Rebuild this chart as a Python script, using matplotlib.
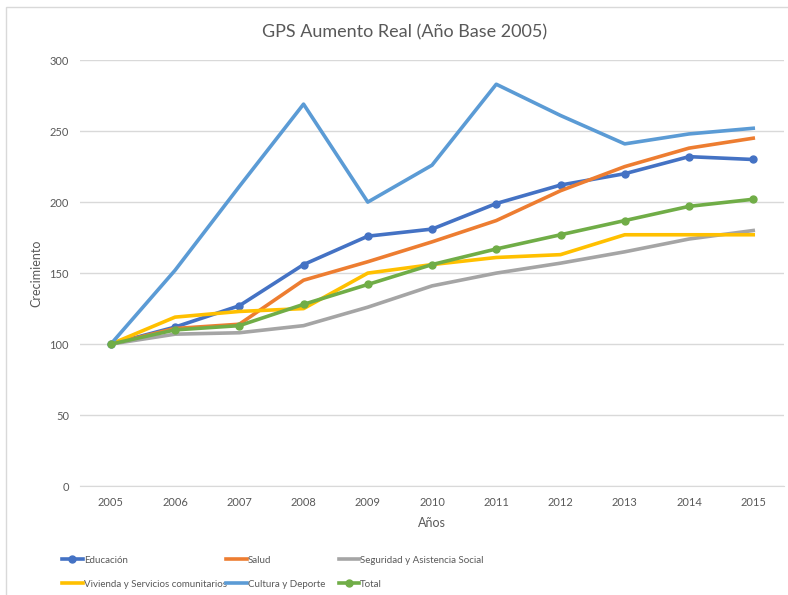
import matplotlib.pyplot as plt
from matplotlib.patches import Rectangle

plt.rcParams['font.family'] = ['Lato', 'DejaVu Sans']

years = [2005, 2006, 2007, 2008, 2009, 2010, 2011, 2012, 2013, 2014, 2015]
educacion = [100, 112, 127, 156, 176, 181, 199, 212, 220, 232, 230]
salud = [100, 111, 114, 145, 158, 172, 187, 208, 225, 238, 245]
seguridad = [100, 107, 108, 113, 126, 141, 150, 157, 165, 174, 180]
vivienda = [100, 119, 123, 125, 150, 156, 161, 163, 177, 177, 177]
cultura = [100, 152, 211, 269, 200, 226, 283, 261, 241, 248, 252]
total = [100, 110, 113, 128, 142, 156, 167, 177, 187, 197, 202]

TXT = '#595959'

fig = plt.figure(figsize=(7.88, 5.95), dpi=100)
ax = fig.add_axes([0.1015, 0.183, 0.8935, 0.716])

lw = 2.6
h_edu, = ax.plot(years, educacion, color='#4472C4', lw=lw, marker='o', ms=5, label='Educación')
h_sal, = ax.plot(years, salud, color='#ED7D31', lw=lw, label='Salud')
h_seg, = ax.plot(years, seguridad, color='#A5A5A5', lw=lw, label='Seguridad y Asistencia Social')
h_viv, = ax.plot(years, vivienda, color='#FFC000', lw=lw, label='Vivienda y Servicios comunitarios')
h_cul, = ax.plot(years, cultura, color='#5B9BD5', lw=lw, label='Cultura y Deporte')
h_tot, = ax.plot(years, total, color='#70AD47', lw=lw, marker='o', ms=5, label='Total')

ax.set_ylim(0, 300)
ax.set_yticks(range(0, 301, 50))
ax.set_xlim(2004.52, 2015.48)
ax.set_xticks(years)
ax.grid(axis='y', color='#D9D9D9', lw=1)
ax.set_axisbelow(True)
for s in ['top', 'right', 'left']:
    ax.spines[s].set_visible(False)
ax.spines['bottom'].set_color('#D9D9D9')
ax.tick_params(length=0, labelsize=8, colors=TXT, pad=8)
ax.set_xlabel('Años', fontsize=9, color=TXT, labelpad=6)
ax.set_ylabel('Crecimiento', fontsize=9, color=TXT, labelpad=5)

fig.text(0.513, 0.946, 'GPS Aumento Real (Año Base 2005)', ha='center', va='center',
         fontsize=13, color=TXT)

cols = [([h_edu, h_viv], 0.079), ([h_sal, h_cul], 0.287), ([h_seg, h_tot], 0.430)]
for hs, x in cols:
    fig.legend(handles=hs, loc='upper left', bbox_to_anchor=(x, 0.066), frameon=False,
               fontsize=7, labelcolor=TXT, handlelength=2.1, handletextpad=0.1,
               labelspacing=1.55, borderaxespad=0, borderpad=0)

fig.patches.append(Rectangle((0.007, -0.01), 1.0, 0.998, transform=fig.transFigure,
                             fill=False, edgecolor='#D9D9D9', lw=1))

fig.savefig('out.png', dpi=100)
